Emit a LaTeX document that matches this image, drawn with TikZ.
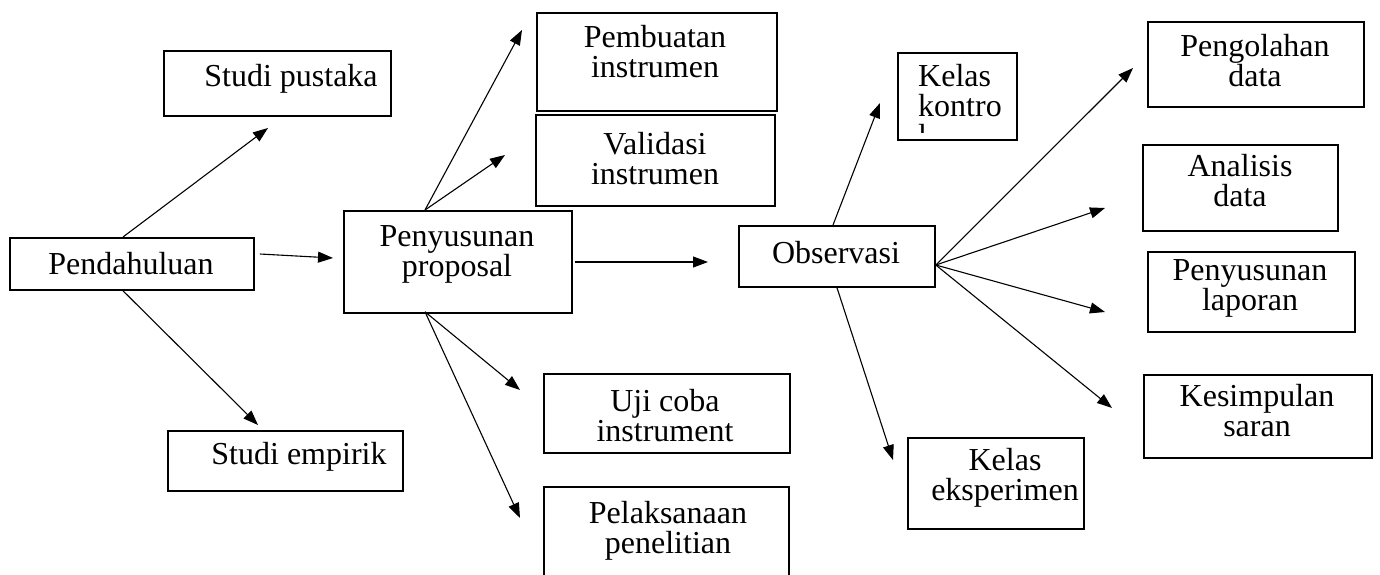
\documentclass[tikz,border=0pt]{standalone}
\usepackage{fontspec}
\setmainfont{Liberation Serif}
\usetikzlibrary{arrows.meta}
\begin{document}
\begin{tikzpicture}[x=1pt,y=-1pt,
  box/.style={draw,line width=1.8pt,inner sep=0pt,anchor=north west},
  txt/.style={align=center,font=\fontsize{32}{30}\selectfont,inner sep=0pt},
  arr/.style={line width=1.1pt,-{Triangle[length=15pt,width=11pt]}}]
\useasboundingbox (0,0) rectangle (1380,575);
% boxes
\node[box,minimum width=227,minimum height=65] (sp) at (163,50) {};
\node[box,minimum width=244,minimum height=52] (pd) at (9,237) {};
\node[box,minimum width=235,minimum height=60] (se) at (167,430) {};
\node[box,minimum width=228,minimum height=102] (pp) at (343,210) {};
\node[box,minimum width=240,minimum height=98] (pi) at (536,12) {};
\node[box,minimum width=239,minimum height=91] (vi) at (535,114) {};
\node[box,minimum width=246,minimum height=79] (uc) at (543,373) {};
\node[box,minimum width=245,minimum height=100] (pl) at (543,486) {};
\node[box,minimum width=196,minimum height=61] (ob) at (738,225) {};
\node[box,minimum width=119,minimum height=87] (kk) at (897,52) {};
\node[box,minimum width=176,minimum height=91] (ke) at (907,437) {};
\node[box,minimum width=216,minimum height=85] (po) at (1147,21) {};
\node[box,minimum width=195,minimum height=86] (an) at (1142,144) {};
\node[box,minimum width=207,minimum height=80] (pn) at (1147,251) {};
\node[box,minimum width=228,minimum height=83] (ks) at (1143,374) {};
% texts
\node[txt] (tsp) at (291,79) {Studi pustaka};
\node[txt] (tpd) at (131,264) {Pendahuluan};
\node[txt] (tse) at (299,457) {Studi empirik};
\node[txt] (tpp) at (457,254) {Penyusunan\\proposal};
\node[txt] (tpi) at (655,52) {Pembuatan\\instrumen};
\node[txt] (tvi) at (655,159) {Validasi\\instrumen};
\node[txt] (tuc) at (665,416) {Uji coba\\instrument};
\node[txt] (tpl) at (668,531) {Pelaksanaan\\penelitian};
\node[txt] (tob) at (836,253) {Observasi};
\begin{scope}
\clip (kk.north west) rectangle ([yshift=8]kk.south east);
\node[txt,align=left,anchor=north west] (tkk) at (918,64) {Kelas\\kontro\\l};
\end{scope}
\node[txt] (tke) at (1005,478) {Kelas\\eksperimen};
\node[txt] (tpo) at (1255,61) {Pengolahan\\data};
\node[txt] (tan) at (1240,181) {Analisis\\data};
\node[txt] (tpn) at (1250,288) {Penyusunan\\laporan};
\node[txt] (tks) at (1257,411) {Kesimpulan\\saran};
% arrow tips
\coordinate (a1) at (268,128);
\coordinate (a2) at (258,425);
\coordinate (a3) at (333,258);
\coordinate (a4) at (522,30);
\coordinate (a5) at (505,155);
\coordinate (a6) at (520,390);
\coordinate (a7) at (520,518);
\coordinate (a8) at (708,262);
\coordinate (a9) at (880,103);
\coordinate (a10) at (893,460);
\coordinate (a11) at (1133,68);
\coordinate (a12) at (1105,208);
\coordinate (a13) at (1105,312);
\coordinate (a14) at (1112,408);
% arrows
\draw[arr] ([xshift=114]pd.north west) -- (a1);
\draw[arr] ([xshift=114]pd.south west) -- (a2);
\draw[arr] ([xshift=5,yshift=-17]pd.north east) -- (a3);
\draw[arr] ([xshift=82]pp.north west) -- (a4);
\draw[arr] ([xshift=82]pp.north west) -- (a5);
\draw[arr] ([xshift=82,yshift=2]pp.south west) -- (a6);
\draw[arr] ([xshift=82,yshift=2]pp.south west) -- (a7);
\draw[arr] ([xshift=2,yshift=-52]pp.north east) -- (a8);
\draw[arr] ([xshift=95]ob.north west) -- (a9);
\draw[arr] ([xshift=99]ob.south west) -- (a10);
\draw[arr] ([yshift=-40]ob.north east) -- (a11);
\draw[arr] ([yshift=-40]ob.north east) -- (a12);
\draw[arr] ([yshift=-40]ob.north east) -- (a13);
\draw[arr] ([yshift=-40]ob.north east) -- (a14);
\end{tikzpicture}
\end{document}
